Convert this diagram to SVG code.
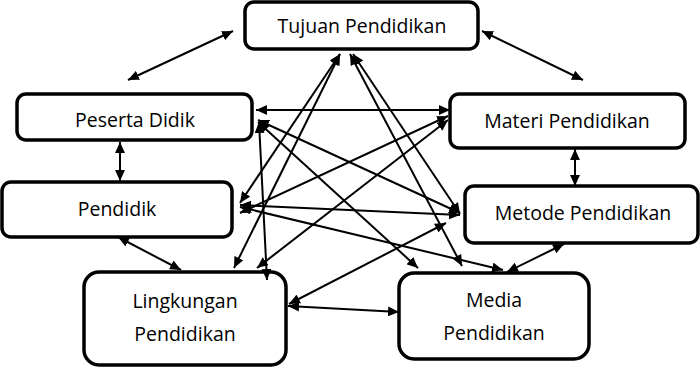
<svg xmlns="http://www.w3.org/2000/svg" width="700" height="367" viewBox="0 0 700 367">
<style>
.box{fill:#fff;stroke:#000;stroke-width:3.5}
.t{font-family:"Open Sans","Noto Sans",sans-serif;font-size:19.5px;fill:#000;text-anchor:middle}
.c line{stroke:#000;stroke-width:2;marker-start:url(#ah);marker-end:url(#ah)}
</style>
<defs>
<marker id="ah" viewBox="0 0 10 9" refX="10" refY="4.5" markerWidth="11" markerHeight="10" markerUnits="userSpaceOnUse" orient="auto-start-reverse">
<path d="M0,0 L10,4.5 L0,9 z" fill="#000"/>
</marker>
</defs>
<rect width="700" height="367" fill="#fff"/>
<g id="tujuan"><rect class="box" x="245" y="2" width="233" height="47" rx="9"/><text class="t" x="362" y="33">Tujuan Pendidikan</text></g>
<g id="peserta"><rect class="box" x="17" y="94" width="235" height="46" rx="9"/><text class="t" x="135" y="127">Peserta Didik</text></g>
<g id="materi"><rect class="box" x="450" y="94" width="235" height="54" rx="9"/><text class="t" x="567" y="128">Materi Pendidikan</text></g>
<g id="pendidik"><rect class="box" x="2" y="182" width="230" height="55" rx="9"/><text class="t" x="117" y="216">Pendidik</text></g>
<g id="metode"><rect class="box" x="465" y="186" width="233" height="57" rx="9"/><text class="t" x="583" y="220">Metode Pendidikan</text></g>
<g id="lingkungan"><rect class="box" x="84" y="272" width="202" height="93" rx="15"/><text class="t" x="185" y="308">Lingkungan</text><text class="t" x="185" y="341">Pendidikan</text></g>
<g id="media"><rect class="box" x="399" y="273" width="190" height="86" rx="15"/><text class="t" x="494" y="307">Media</text><text class="t" x="494" y="340">Pendidikan</text></g>
<g id="connectors" class="c">
<line x1="128" y1="80" x2="233" y2="31"/>
<line x1="482" y1="31" x2="583" y2="80"/>
<line x1="120" y1="142" x2="120" y2="181"/>
<line x1="575" y1="149" x2="575" y2="186"/>
<line x1="118" y1="237" x2="181" y2="270"/>
<line x1="564" y1="244" x2="507" y2="272"/>
<line x1="288" y1="306" x2="399" y2="312"/>
<line x1="256" y1="110" x2="450" y2="110"/>
<line x1="340" y1="54" x2="240" y2="203"/>
<line x1="340" y1="54" x2="234" y2="268"/>
<line x1="353" y1="54" x2="460" y2="214"/>
<line x1="350" y1="54" x2="462" y2="266"/>
<line x1="258" y1="120" x2="460" y2="213"/>
<line x1="258" y1="122" x2="418" y2="268"/>
<line x1="259" y1="122" x2="267" y2="280"/>
<line x1="448" y1="116" x2="240" y2="213"/>
<line x1="448" y1="120" x2="257" y2="268"/>
<line x1="240" y1="205" x2="460" y2="215"/>
<line x1="240" y1="207" x2="503" y2="270"/>
<line x1="289" y1="304" x2="446" y2="223"/>
</g>
</svg>
